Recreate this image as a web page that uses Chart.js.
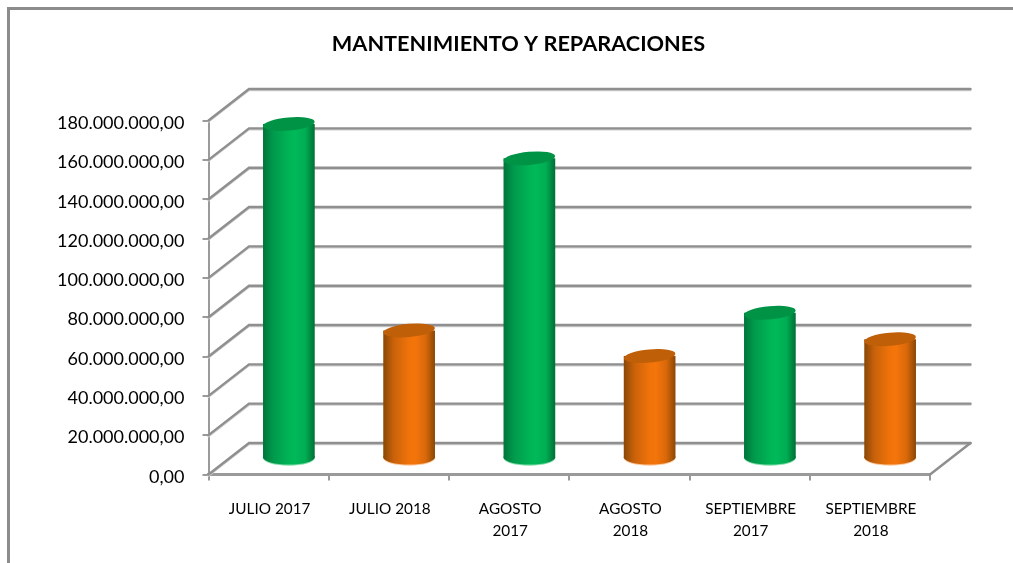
<!DOCTYPE html>
<html><head><meta charset="utf-8">
<script src="https://cdn.jsdelivr.net/npm/chart.js@4"></script>
<style>
html,body{margin:0;padding:0;background:#fff;overflow:hidden;width:1013px;height:563px}
#box{position:absolute;left:7px;top:7px;width:1040px;height:570px;border-left:3px solid #8c8c8c;border-top:3px solid #8c8c8c;}
canvas{display:block}
</style></head><body>
<div id="box"><canvas id="c" width="1017" height="553"></canvas></div>
<script>
const categories=[["JULIO 2017"],["JULIO 2018"],["AGOSTO","2017"],["AGOSTO","2018"],["SEPTIEMBRE","2017"],["SEPTIEMBRE","2018"]];
const values=[170000000,65000000,152500000,52000000,74000000,60500000];
const yTickLabels=["0,00","20.000.000,00","40.000.000,00","60.000.000,00","80.000.000,00","100.000.000,00","120.000.000,00","140.000.000,00","160.000.000,00","180.000.000,00"];
const titleText="MANTENIMIENTO Y REPARACIONES";
const palettes=[
 {stops:["#00753a","#009a4c","#00b455","#00b959","#00ad52","#006f37"],cap:"#009345",rim:"#7fdca8"},
 {stops:["#8a4705","#c9620a","#f0730a","#f4750a","#d9680a","#8a4705"],cap:"#bf5f08",rim:"#fbc79a"}
];
const barPal=[0,1,0,1,0,1];
const stopPos=[0,0.2,0.5,0.62,0.82,1];
const DX=40.5,DY=-31.5;
const midX=DX/2,midY=DY/2-0.5;
const BAR_SHARE=0.43;
function barGrad(chart,i){
  const xs=chart.scales.x;
  const pal=palettes[barPal[i]];
  if(!xs||!Number.isFinite(xs.width)||!Number.isFinite(xs.getPixelForValue(i))) return pal.stops[3];
  const x=xs.getPixelForValue(i);
  const hw=BAR_SHARE*xs.width/categories.length/2;
  const g=chart.ctx.createLinearGradient(x-hw,0,x+hw,0);
  pal.stops.forEach((c,k)=>g.addColorStop(stopPos[k],c));
  return g;
}
const walls={
  id:'walls',
  beforeDatasetsDraw(chart){
    const {ctx,chartArea:a,scales:{y}}=chart;
    ctx.save();
    y.ticks.forEach(t=>{
      const p=y.getPixelForValue(t.value);
      ctx.lineCap='round';
      ctx.beginPath();ctx.moveTo(a.left,p+1.2);ctx.lineTo(a.left+DX,p+DY+1.2);ctx.lineTo(a.right+DX,p+DY+1.2);
      ctx.strokeStyle='#cfcfcf';ctx.lineWidth=2;ctx.stroke();
      ctx.beginPath();ctx.moveTo(a.left,p);ctx.lineTo(a.left+DX,p+DY);ctx.lineTo(a.right+DX,p+DY);
      ctx.strokeStyle='#8f8f8f';ctx.lineWidth=2.4;ctx.stroke();
    });
    const b=y.getPixelForValue(0);
    ctx.beginPath();ctx.moveTo(a.right,b);ctx.lineTo(a.right+DX,b+DY);
    ctx.strokeStyle='#8f8f8f';ctx.lineWidth=2.5;ctx.stroke();
    ctx.restore();
    ctx.save();
    ctx.translate(midX,midY);
    chart.getDatasetMeta(0).data.forEach((m,i)=>{
      const pal=palettes[barPal[i]];
      ctx.beginPath();ctx.ellipse(m.x,m.base+0.8,m.width/2,7.6,0,0,Math.PI*2);
      ctx.fillStyle=pal.rim;ctx.fill();
      ctx.beginPath();ctx.ellipse(m.x,m.base,m.width/2,7.3,0,0,Math.PI*2);
      ctx.fillStyle=barGrad(chart,i);ctx.fill();
    });
  },
  afterDatasetsDraw(chart){
    const ctx=chart.ctx;
    chart.getDatasetMeta(0).data.forEach((m,i)=>{
      const pal=palettes[barPal[i]];
      ctx.beginPath();ctx.ellipse(m.x,m.y,m.width/2,6.6,-0.09,0,Math.PI*2);
      ctx.fillStyle=pal.cap;ctx.fill();
    });
    ctx.restore();
  }
};
new Chart(document.getElementById('c'),{
  type:'bar',
  data:{labels:categories,datasets:[{
    label:titleText,data:values,
    backgroundColor:c=>barGrad(c.chart,c.dataIndex),
    borderWidth:0,barPercentage:BAR_SHARE,categoryPercentage:1
  }]},
  plugins:[walls],
  options:{
    responsive:false,animation:false,
    layout:{padding:{left:0,right:0,top:0,bottom:0}},
    plugins:{
      legend:{display:false},tooltip:{enabled:false},
      title:{display:true,text:titleText,color:'#000',
        font:{family:'Lato',size:21.7,weight:'bold',lineHeight:1.2},
        padding:{top:21,bottom:63.5}}
    },
    scales:{
      x:{
        afterFit(s){s.height=88.5;},
        grid:{drawOnChartArea:false,color:'#9a9a9a',lineWidth:2,tickLength:6,offset:true},
        border:{color:'#9a9a9a',width:3},
        ticks:{color:'#000',font:{family:'Lato',size:15.3,lineHeight:1.44},padding:18,labelOffset:1,maxRotation:0,autoSkip:false}
      },
      y:{
        min:0,max:180000000,
        afterBuildTicks(s){s.ticks=yTickLabels.map((_,i)=>({value:i*20000000}));},
        afterFit(s){s.width=198.5;},
        grid:{drawOnChartArea:false,color:'#9a9a9a',lineWidth:2,tickLength:6},
        border:{color:'#9a9a9a',width:2},
        ticks:{color:'#000',font:{family:'Lato',size:18},padding:18,labelOffset:2.5,stepSize:20000000,
          callback:(v,i)=>yTickLabels[i]}
      },
      spacer:{
        axis:'y',position:'right',display:true,min:0,max:1,
        afterFit(s){s.width=97;},
        grid:{display:false},border:{display:false},ticks:{display:false}
      }
    }
  }
});
</script></body></html>
